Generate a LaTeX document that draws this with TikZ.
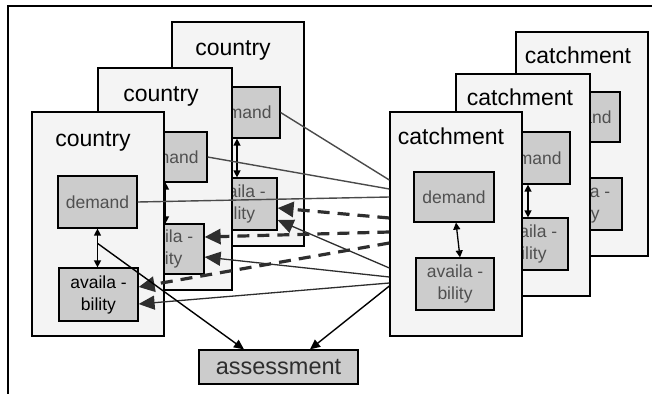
\documentclass[tikz,border=0pt]{standalone}
\usepackage{fontspec}
\setmainfont{Liberation Sans}
\usetikzlibrary{arrows.meta,calc}
\definecolor{panelc}{HTML}{F4F4F4}
\definecolor{cellc}{HTML}{CCCCCC}
\definecolor{ink}{HTML}{2E2E2E}
\definecolor{soft}{HTML}{4A4A4A}
\definecolor{celltext}{HTML}{505050}
\begin{document}
\begin{tikzpicture}[x=1pt,y=-1pt,
  panelbox/.style={draw=black,line width=1.3pt,fill=panelc,inner sep=0pt},
  cellbox/.style={draw=black,line width=1.2pt,fill=cellc,inner sep=0pt,align=center,
    text=celltext,font=\fontsize{17.5}{22}\selectfont},
  titletext/.style={inner sep=0pt,font=\fontsize{23}{27}\selectfont},
  pair/.style={draw=black,line width=1.3pt,{Triangle[length=7pt,width=7pt]}-{Triangle[length=7pt,width=7pt]}},
  demandlink/.style={draw=soft,line width=1.4pt},
  flowlink/.style={draw=ink,line width=3.2pt,dash pattern=on 12pt off 8pt,
    -{Triangle[length=16pt,width=15pt]}},
  feedlink/.style={draw=ink,line width=1.3pt,-{Triangle[length=16pt,width=14pt]}},
  assesslink/.style={draw=black,line width=1.4pt,-{Triangle[length=10pt,width=9pt]}}]
\useasboundingbox (0,0) rectangle (652,394);

% frame corner
\draw[line width=2pt] (652,6) -- (7.5,6) -- (7.5,394);

% ---- country panels, back to front ----
\node[panelbox,minimum width=132pt,minimum height=224pt] (c3) at (238,134) {};
\node[titletext] (c3t) at (233,50) {country};
\node[cellbox,minimum width=80pt,minimum height=51pt] (c3d) at (240,112.5) {demand};
\node[cellbox,minimum width=79pt,minimum height=52pt] (c3a) at (237.5,204) {availa -\\bility};
\draw[pair] ([xshift=-3pt]c3d.south) -- ([xshift=-3pt]c3d.south |- c3a.north);

\node[panelbox,minimum width=134pt,minimum height=222pt] (c2) at (165,179) {};
\node[titletext] (c2t) at (161,96) {country};
\node[cellbox,minimum width=80pt,minimum height=50pt] (c2d) at (167,157) {demand};
\node[cellbox,minimum width=78pt,minimum height=50pt] (c2a) at (165,249) {availa -\\bility};
\draw[pair] ([xshift=-1.5pt]c2d.south) -- ([xshift=-1.5pt]c2d.south |- c2a.north);

\node[panelbox,minimum width=132pt,minimum height=224pt] (c1) at (98,224) {};
\node[titletext] (c1t) at (93,141) {country};
\node[cellbox,minimum width=79pt,minimum height=52pt] (c1d) at (97.5,202) {demand};
\node[cellbox,minimum width=79pt,minimum height=53pt,text=black] (c1a) at (98.5,294.5) {availa -\\bility};
\draw[pair] (c1d.south) -- (c1d.south |- c1a.north);
\coordinate (c1mid) at ($(c1d.south)!0.38!(c1d.south |- c1a.north)$);

% ---- catchment panels, back to front ----
\node[panelbox,minimum width=132pt,minimum height=224pt] (k3) at (582,144) {};
\node[titletext] (k3t) at (578,55) {catchment};
\node[cellbox,minimum width=80pt,minimum height=50pt] (k3d) at (580,117) {demand};
\node[cellbox,minimum width=80pt,minimum height=52pt] (k3a) at (582,204) {availa -\\bility};
\draw[pair] (k3d.south) -- (k3d.south |- k3a.north);

\node[panelbox,minimum width=134pt,minimum height=222pt] (k2) at (523,185) {};
\node[titletext] (k2t) at (520,97) {catchment};
\node[cellbox,minimum width=80pt,minimum height=52pt] (k2d) at (530,158) {demand};
\node[cellbox,minimum width=78pt,minimum height=52pt] (k2a) at (529,244) {availa -\\bility};
\draw[pair] ([xshift=-2pt]k2d.south) -- ([xshift=-2pt]k2d.south |- k2a.north);

\node[panelbox,minimum width=132pt,minimum height=224pt] (k1) at (456,224) {};
\node[titletext] (k1t) at (451,136) {catchment};
\node[cellbox,minimum width=80pt,minimum height=50pt] (k1d) at (454,197) {demand};
\node[cellbox,minimum width=78pt,minimum height=52pt] (k1a) at (455,284) {availa -\\bility};
\draw[pair] ([xshift=2pt]k1d.south) -- ([xshift=5pt]k1a.north);

% ---- assessment ----
\node[draw=black,line width=1.3pt,fill=cellc,inner sep=0pt,minimum width=159pt,minimum height=34pt,
  text=ink,font=\fontsize{23.5}{26}\selectfont] (asm) at (278.5,367) {assessment};

% ---- demand links ----
\draw[demandlink] (c3d.east) -- ([yshift=44pt]k1.west);
\draw[demandlink] (c2d.east) -- ([yshift=35pt]k1.west);
\draw[demandlink] (c1d.east) -- ([yshift=27pt]k1.west);

% ---- availability flows (dashed) ----
\draw[flowlink] ([yshift=6pt]k1.west) -- ([yshift=-4pt]c3a.east);
\draw[flowlink] ([yshift=-8pt]k1.west) -- ([yshift=12pt]c2a.east);
\draw[flowlink] ([yshift=-19pt]k1.west) -- ([yshift=7.5pt]c1a.east);

% ---- availability feeds (solid) ----
\draw[feedlink] ([yshift=-44pt]k1.west) -- ([yshift=-16pt]c3a.east);
\draw[feedlink] ([yshift=-53pt]k1.west) -- ([yshift=-8pt]c2a.east);
\draw[feedlink] ([yshift=-59pt]k1.west) -- ([yshift=-9.5pt]c1a.east);

% ---- links to assessment ----
\draw[assesslink] (c1mid) -- ([xshift=-34.5pt]asm.north);
\draw[assesslink] ([yshift=-62pt]k1.west) -- ([xshift=31.5pt]asm.north);
\end{tikzpicture}
\end{document}
